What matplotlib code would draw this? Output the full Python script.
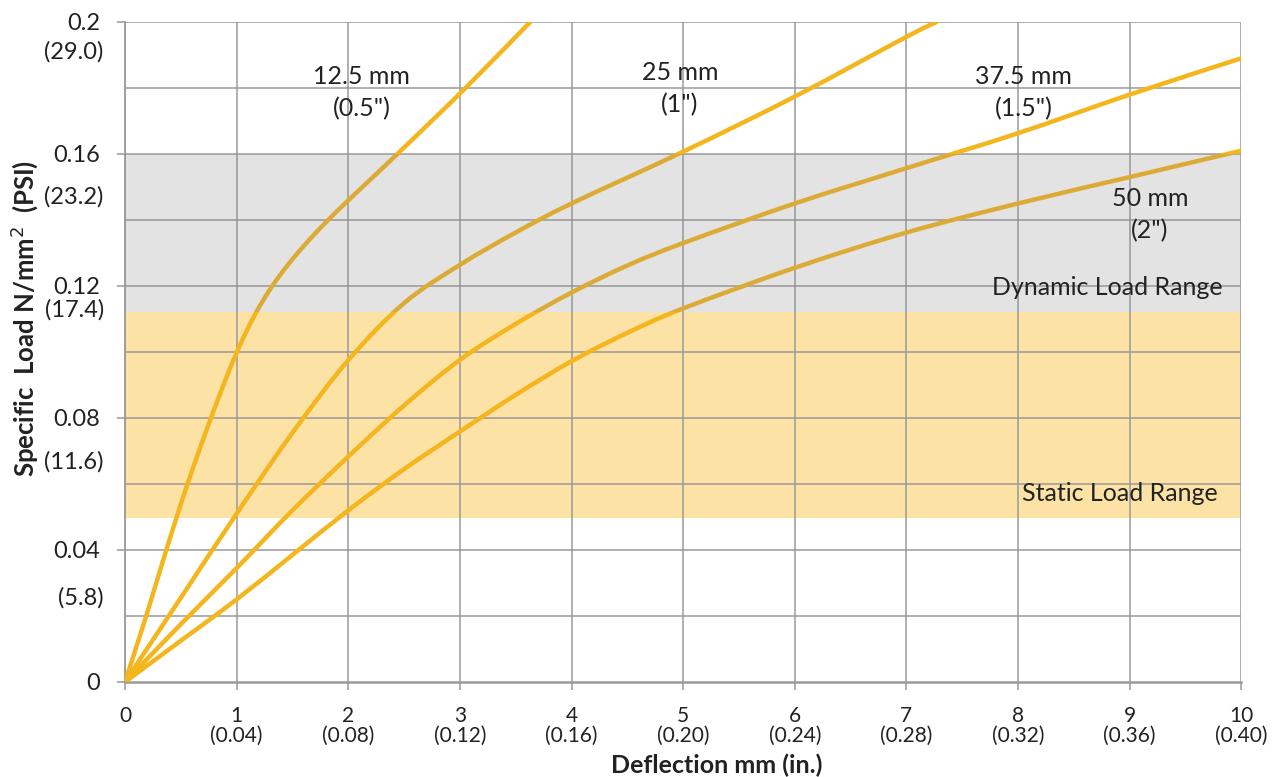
import matplotlib.pyplot as plt
from matplotlib.path import Path
from matplotlib.patches import PathPatch
import numpy as np

plt.rcParams['font.family'] = ['Lato', 'DejaVu Sans']

# curves: deflection (mm) vs specific load (N/mm2)
x_125 = [0, 0.19, 0.37, 0.56, 0.77, 0.99, 1.2, 1.45, 1.82, 2.44, 3.05, 3.63]
y_125 = [0, 0.02, 0.04, 0.06, 0.08, 0.099, 0.1135, 0.126, 0.14, 0.16, 0.18, 0.20]

x_25 = [0, 0.5, 1.0, 1.5, 2.0, 2.5, 3.0, 3.5, 4.0, 5.0, 6.0, 7.0, 7.27]
y_25 = [0, 0.0255, 0.051, 0.0755, 0.0975, 0.1148, 0.1264, 0.1362, 0.145, 0.1607, 0.1774, 0.1955, 0.2]

x_375 = [0, 0.5, 1.0, 1.5, 2.0, 2.5, 3.0, 3.5, 4.0, 4.5, 5.0, 6.0, 7.0, 8.0, 9.0, 10.0]
y_375 = [0, 0.0175, 0.0345, 0.052, 0.0683, 0.0838, 0.0976, 0.1085, 0.118, 0.1262, 0.133, 0.145, 0.1557, 0.1663, 0.178, 0.189]

x_50 = [0, 0.5, 1.0, 1.5, 2.0, 2.5, 3.0, 3.5, 4.0, 4.5, 5.0, 6.0, 7.0, 8.0, 9.0, 10.0]
y_50 = [0, 0.0125, 0.025, 0.0385, 0.052, 0.0645, 0.0759, 0.087, 0.0972, 0.1058, 0.1132, 0.1255, 0.1362, 0.145, 0.153, 0.161]

curve_labels = ['12.5 mm\n(0.5")', '25 mm\n(1")', '37.5 mm\n(1.5")', '50 mm\n(2")']
label_pos = [(2.12, 0.1785), (4.97, 0.1798), (8.05, 0.1785), (9.18, 0.1417)]

x_ticks = [0, 1, 2, 3, 4, 5, 6, 7, 8, 9, 10]
x_inch = ['', '(0.04)', '(0.08)', '(0.12)', '(0.16)', '(0.20)', '(0.24)', '(0.28)', '(0.32)', '(0.36)', '(0.40)']
y_ticks = [0, 0.04, 0.08, 0.12, 0.16, 0.2]
y_tick_labels = ['0', '0.04', '0.08', '0.12', '0.16', '0.2']
psi_labels = ['(5.8)', '(11.6)', '(17.4)', '(23.2)', '(29.0)']
psi_pos = [0.0255, 0.0667, 0.1127, 0.147, 0.1909]

static_range = (0.0497, 0.1122)
dynamic_range = (0.1122, 0.16)

line_col = '#f5b51c'
grid_col = '#9a9a9a'
text_col = '#222222'


def smooth_path(xs, ys):
    # excel-style smoothed line: catmull-rom segments drawn as cubic beziers
    p = np.column_stack([xs, ys])
    p = np.vstack([p[0], p, p[-1]])
    verts = [p[1]]
    codes = [Path.MOVETO]
    for i in range(1, len(p) - 2):
        c1 = p[i] + (p[i + 1] - p[i - 1]) / 6
        c2 = p[i + 1] - (p[i + 2] - p[i]) / 6
        verts += [c1, c2, p[i + 1]]
        codes += [Path.CURVE4] * 3
    return Path(verts, codes)


fig = plt.figure(figsize=(12.78, 7.77), dpi=100)
ax = fig.add_axes([0.0978, 0.1223, 0.8735, 0.8494])

ax.set_xlim(0, 10)
ax.set_ylim(0, 0.2)

# grid
for xv in x_ticks:
    ax.axvline(xv, color=grid_col, lw=1.1, zorder=2)
for yv in np.arange(0.02, 0.201, 0.02):
    ax.axhline(yv, color=grid_col, lw=1.1, zorder=2)

ax.axhspan(*static_range, color='#fde2a6', zorder=1, lw=0)

for xs, ys in [(x_125, y_125), (x_25, y_25), (x_375, y_375), (x_50, y_50)]:
    patch = PathPatch(smooth_path(xs, ys), fill=False, edgecolor=line_col, lw=3.2,
                      capstyle='round', joinstyle='round', zorder=3)
    ax.add_patch(patch)

# gray band sits over the curves, which makes them look duller there
ax.axhspan(*dynamic_range, color='#8c8c8c', alpha=0.24, zorder=4, lw=0)

for txt, (lx, ly) in zip(curve_labels, label_pos):
    ax.text(lx, ly, txt, ha='center', va='center', fontsize=18, color=text_col,
            linespacing=1.45, zorder=5)

ax.text(8.80, 0.1194, 'Dynamic Load Range', ha='center', va='center', fontsize=18, color=text_col, zorder=5)
ax.text(8.91, 0.0572, 'Static Load Range', ha='center', va='center', fontsize=18, color=text_col, zorder=5)

for s in ['top', 'right']:
    ax.spines[s].set_visible(False)
ax.spines['left'].set_color(grid_col)
ax.spines['bottom'].set_color(grid_col)
ax.spines['left'].set_linewidth(1.3)
ax.spines['bottom'].set_linewidth(1.8)

ax.set_xticks(x_ticks)
ax.set_xticklabels([f'{t}\n{i}' if i else f'{t}' for t, i in zip(x_ticks, x_inch)],
                   fontsize=15, linespacing=1.0, color=text_col)
ax.set_yticks(y_ticks)
ax.set_yticklabels(y_tick_labels, fontsize=17, color=text_col)
ax.tick_params(axis='both', length=6, color=grid_col, width=1.1)
ax.tick_params(axis='x', pad=11)
ax.tick_params(axis='y', pad=12)

for txt, yv in zip(psi_labels, psi_pos):
    ax.text(-0.19, yv, txt, ha='right', va='center', fontsize=17, color=text_col,
            transform=ax.transData, clip_on=False)

fig.text(0.561, 0.0, 'Deflection mm (in.)', ha='center', va='bottom', fontsize=18,
         fontweight='bold', color=text_col)
fig.text(0.019, 0.59, 'Specific  Load N/mm$^2$  (PSI)', ha='center', va='center', rotation=90,
         fontsize=18.5, fontweight='bold', color=text_col)

fig.savefig('out.png', dpi=100)
